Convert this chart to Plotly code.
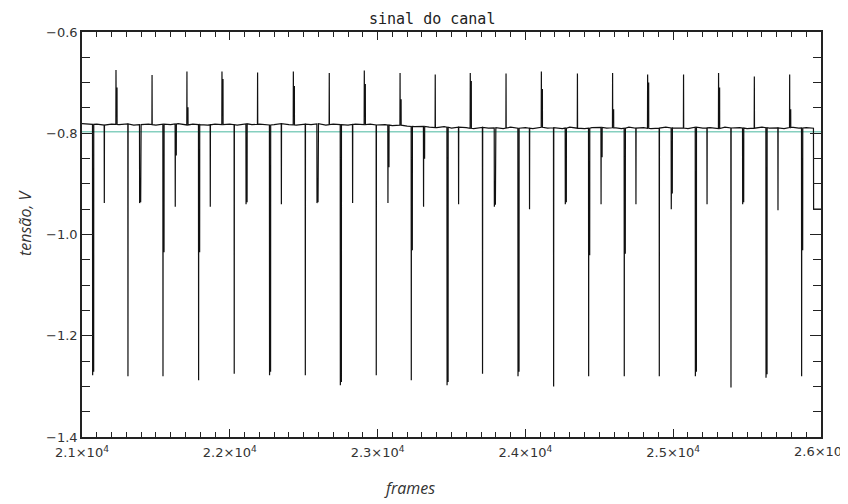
import numpy as np
import plotly.graph_objects as go

# ---------------- data ----------------
base_frames = list(range(21000, 26001, 50))
base_vals = [
    -0.781, -0.783, -0.782, -0.784, -0.782, -0.783, -0.781, -0.784, -0.783, -0.782,
    -0.784, -0.782, -0.783, -0.781, -0.784, -0.782, -0.783, -0.784, -0.782, -0.783,
    -0.782, -0.784, -0.781, -0.783, -0.782, -0.784, -0.783, -0.781, -0.783, -0.784,
    -0.782, -0.783, -0.781, -0.784, -0.782, -0.783, -0.784, -0.782, -0.783, -0.782,
    -0.784, -0.783, -0.785, -0.784, -0.786, -0.787, -0.786, -0.788, -0.789, -0.787,
    -0.790, -0.788, -0.789, -0.791, -0.788, -0.790, -0.789, -0.791, -0.788, -0.790,
    -0.789, -0.791, -0.788, -0.790, -0.789, -0.791, -0.788, -0.790, -0.791, -0.789,
    -0.788, -0.790, -0.789, -0.791, -0.788, -0.790, -0.789, -0.791, -0.790, -0.788,
    -0.790, -0.789, -0.791, -0.788, -0.790, -0.789, -0.791, -0.788, -0.790, -0.789,
    -0.791, -0.790, -0.788, -0.790, -0.789, -0.791, -0.788, -0.790, -0.789, -0.790,
    -0.789]

long_frames = [21072, 21311, 21548, 21789, 22030, 22269, 22511, 22748, 22991, 23228, 23470,
               23710, 23950, 24191, 24428, 24669, 24906, 25150, 25391, 25628, 25869]
long_tip = [-1.278, -1.280, -1.280, -1.288, -1.275, -1.278, -1.278, -1.298, -1.278, -1.288, -1.298,
            -1.275, -1.280, -1.300, -1.280, -1.280, -1.280, -1.280, -1.302, -1.283, -1.280]
long_second = [-1.270, None, -1.034, -1.034, None, -1.270, None, -1.290, None, -1.030, -1.290,
               None, -1.270, None, -1.040, -1.037, None, -1.270, None, -1.275, -1.030]

short_frames = [21151, 21390, 21631, 21868, 22110, 22349, 22590, 22831, 23070, 23311,
                23548, 23790, 24028, 24270, 24512, 24748, 24987, 25229, 25470, 25709]
short_tip = [-0.938, -0.938, -0.945, -0.945, -0.940, -0.940, -0.938, -0.938, -0.938, -0.945,
             -0.940, -0.945, -0.950, -0.940, -0.940, -0.940, -0.950, -0.940, -0.940, -0.952]
short_second = [None, -0.935, -0.843, None, -0.935, None, -0.935, None, -0.866, -0.849,
                None, -0.940, None, -0.935, -0.846, None, -0.918, None, -0.935, None]

up_frames = [21230, 21474, 21710, 21947, 22188, 22430, 22673, 22910, 23152, 23390,
             23627, 23869, 24108, 24352, 24590, 24827, 25070, 25307, 25549, 25788]
up_tip = [-0.675, -0.685, -0.678, -0.678, -0.680, -0.678, -0.681, -0.676, -0.681, -0.684,
          -0.681, -0.682, -0.678, -0.682, -0.681, -0.684, -0.684, -0.681, -0.688, -0.684]
up_second = [-0.711, None, -0.750, -0.694, None, -0.708, None, -0.704, -0.734, None,
             -0.698, None, -0.714, None, -0.754, -0.701, None, -0.711, None, -0.754]

tail_frame = 25950
tail_level = -0.950
ref_level = -0.797

x_ticks = [21000, 22000, 23000, 24000, 25000, 26000]
x_ticktext = ["2.1×10<sup>4</sup>", "2.2×10<sup>4</sup>", "2.3×10<sup>4</sup>",
              "2.4×10<sup>4</sup>", "2.5×10<sup>4</sup>", "2.6×10<sup>4</sup>"]
y_ticks = [-1.4, -1.2, -1.0, -0.8, -0.6]

# ---------------- build signal ----------------
D = 7  # width (frames) of double-sample spikes
spikes = sorted(zip(long_frames + short_frames + up_frames,
                    long_tip + short_tip + up_tip,
                    long_second + short_second + up_second),
                key=lambda s: s[0])

bf = np.array(base_frames, float)
bv = np.array(base_vals, float)
pts = []
for f, v in zip(base_frames, base_vals):
    if f >= tail_frame:
        continue
    if any(s[0] - 2 <= f <= s[0] + D + 2 for s in spikes):
        continue
    pts.append((f, v))
for f, tp, sc in spikes:
    b = float(np.interp(f, bf, bv))
    seg = [(f - 1, b), (f, tp)]
    if sc is not None:
        seg += [(f + 0.5, sc), (f + D, sc), (f + D + 0.5, b)]
    else:
        seg += [(f + 1, b)]
    pts += seg
bt = float(np.interp(tail_frame, bf, bv))
pts += [(tail_frame - 1, bt), (tail_frame, tail_level), (26100, tail_level)]
pts.sort(key=lambda p: p[0])
sx = [p[0] for p in pts]
sy = [p[1] for p in pts]

fig = go.Figure()
fig.add_trace(go.Scatter(x=[21000, 26000], y=[ref_level, ref_level], mode="lines",
                         line=dict(color="#86cfbf", width=1.3), hoverinfo="skip"))
fig.add_trace(go.Scatter(x=sx, y=sy, mode="lines",
                         line=dict(color="#111111", width=1.2), hoverinfo="skip"))

TICKFONT = dict(family="DejaVu Sans, sans-serif", size=13, color="#333333")
axis_common = dict(showline=True, linecolor="#222222", linewidth=1.5, mirror="ticks",
                   ticks="inside", tickcolor="#222222", showgrid=False, zeroline=False,
                   automargin=False, tickfont=TICKFONT)
fig.update_xaxes(range=[21000, 26000], tickvals=x_ticks[:-1], ticktext=x_ticktext[:-1],
                 ticklen=8, tickwidth=1.2, ticklabelstandoff=3,
                 minor=dict(dtick=100, tick0=21000, ticklen=5, ticks="inside",
                            tickcolor="#222222", tickwidth=1, showgrid=False),
                 **axis_common)
fig.update_yaxes(range=[-1.4, -0.6], tickvals=y_ticks, tickformat=".1f",
                 ticklen=11, tickwidth=1.2,
                 minor=dict(dtick=0.05, tick0=-1.4, ticklen=8, ticks="inside",
                            tickcolor="#222222", tickwidth=1, showgrid=False),
                 **axis_common)

# page body has an 8px margin: figure is 840x496 placed at (8, 8)
OFF = 8
W, H = 848 - OFF, 504 - OFF
L, R, T, B = 82 - OFF, 27, 32 - OFF, 67
PW, PH = W - L - R, H - T - B


def px(xp):
    return (xp - OFF - L) / PW


def py(yp):
    return (H - B - (yp - OFF)) / PH


fig.update_layout(
    width=W, height=H,
    margin=dict(l=L, r=R, t=T, b=B),
    paper_bgcolor="white", plot_bgcolor="white",
    showlegend=False,
    annotations=[
        dict(text="sinal do canal", x=px(432), y=py(19),
             xref="paper", yref="paper", xanchor="center", yanchor="middle",
             showarrow=False, font=dict(family="DejaVu Sans Mono, monospace", size=15, color="#222222")),
        dict(text="<i>tensão, V</i>", x=px(25), y=py(223),
             xref="paper", yref="paper", xanchor="center", yanchor="middle",
             textangle=-90, showarrow=False,
             font=dict(family="Open Sans, sans-serif", size=16, color="#333333")),
        dict(text="<i>frames</i>", x=px(409), y=py(488),
             xref="paper", yref="paper", xanchor="center", yanchor="middle",
             showarrow=False, font=dict(family="Open Sans, sans-serif", size=16, color="#333333")),
        # last x tick label (runs past the right page edge, as in the original)
        dict(text=x_ticktext[-1], x=x_ticks[-1], y=py(451),
             xref="x", yref="paper", xanchor="center", yanchor="middle",
             showarrow=False, font=TICKFONT),
    ],
)

fig.write_html("out.html")
